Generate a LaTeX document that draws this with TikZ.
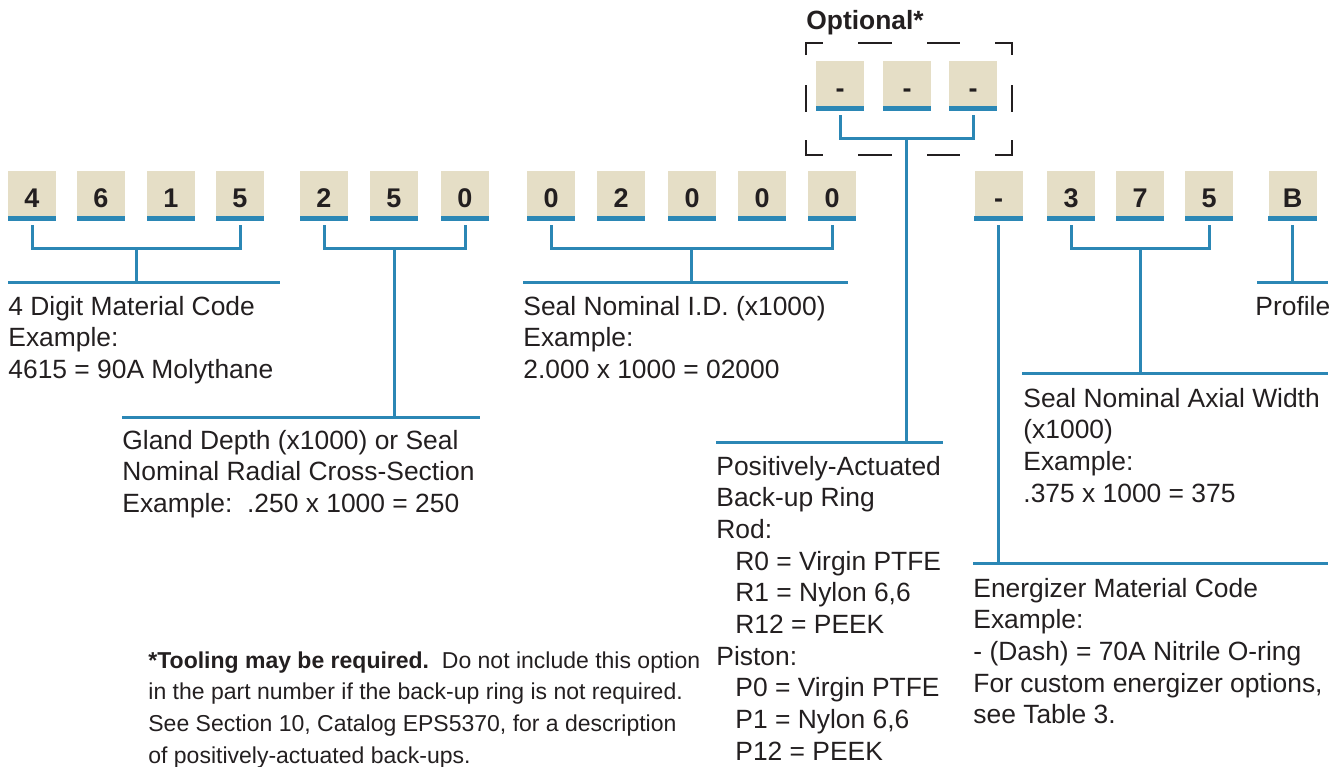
\documentclass[tikz,border=0pt]{standalone}
\usepackage{fontspec}
\setmainfont{Liberation Sans}
\usetikzlibrary{calc}
\definecolor{beige}{HTML}{E5DEC6}
\definecolor{pblue}{HTML}{2B87B5}
\definecolor{ink}{HTML}{231F20}
\newcommand\txtfont{\fontsize{13.2}{15.85}\selectfont}
\newcommand\fnfont{\fontsize{11.5}{15.85}\selectfont}
\newcommand\lns[1]{\begin{tabular}[t]{@{}l@{}}#1\end{tabular}}
\newcommand\ind{\hspace*{9.5pt}}
\begin{document}
\begin{tikzpicture}[x=0.5pt,y=-0.5pt,
  digitbox/.style={fill=beige, minimum width=24pt, minimum height=22.5pt, inner sep=0pt,
    font=\fontsize{13.5}{14}\selectfont\bfseries, text=ink, text height=14pt, text depth=0pt},
  conn/.style={draw=pblue, line width=1.5pt},
  lbl/.style={anchor=base west, inner sep=0pt, font=\txtfont, text=ink},
  dashbox/.style={draw=ink, line width=1.4pt}]
\useasboundingbox (0,0) rectangle (1342,766);

\newcommand\pbox[4]{\node[digitbox] (#1) at (#2,#3) {#4};
  \fill[pblue] (#1.south west) rectangle ($(#1.south east)+(0,5)$);}

% row 1
\pbox{a1}{32}{193.5}{4}
\pbox{a2}{101}{193.5}{6}
\pbox{a3}{171}{193.5}{1}
\pbox{a4}{240}{193.5}{5}
\pbox{b1}{324}{193.5}{2}
\pbox{b2}{394}{193.5}{5}
\pbox{b3}{465}{193.5}{0}
\pbox{c1}{551}{193.5}{0}
\pbox{c2}{621}{193.5}{2}
\pbox{c3}{692}{193.5}{0}
\pbox{c4}{762}{193.5}{0}
\pbox{c5}{832}{193.5}{0}
\pbox{d1}{998.5}{193.5}{-}
\pbox{e1}{1071}{193.5}{3}
\pbox{e2}{1140}{193.5}{7}
\pbox{e3}{1209}{193.5}{5}
\pbox{f1}{1292.5}{193.5}{B}
% optional row
\pbox{o1}{840}{83.5}{-}
\pbox{o2}{907}{83.5}{-}
\pbox{o3}{973}{83.5}{-}

% optional dashed frame
\node[lbl, font=\txtfont\bfseries] (opt) at (806,29) {Optional*};
\draw[dashbox] (806,55) -- (806,43) -- (823,43);
\draw[dashbox] (858,43) -- (892,43);
\draw[dashbox] (927,43) -- (960,43);
\draw[dashbox] (995,43) -- (1012,43) -- (1012,55);
\draw[dashbox] (806,85) -- (806,112);
\draw[dashbox] (1012,85) -- (1012,112);
\draw[dashbox] (806,140) -- (806,155) -- (823,155);
\draw[dashbox] (858,155) -- (892,155);
\draw[dashbox] (927,155) -- (960,155);
\draw[dashbox] (995,155) -- (1012,155) -- (1012,140);

% label lines
\coordinate (L1a) at (8,282);    \coordinate (L1b) at (280,282);
\coordinate (L2a) at (122,417);  \coordinate (L2b) at (480,417);
\coordinate (L3a) at (523,282);  \coordinate (L3b) at (848,282);
\coordinate (L4a) at (716,442);  \coordinate (L4b) at (943,442);
\coordinate (L5a) at (973,563);  \coordinate (L5b) at (1328,563);
\coordinate (L6a) at (1022,373); \coordinate (L6b) at (1328,373);
\coordinate (L7a) at (1257,282); \coordinate (L7b) at (1328,282);
\foreach \i in {1,...,7} {\draw[conn] (L\i a) -- (L\i b);}

% brackets
\draw[conn] ($(a1.south)+(0,9)$) |- ($(a4.south)+(0,32)$) -- ($(a4.south)+(0,9)$);
\coordinate (am) at ($(a1.south)!0.5!(a4.south)+(0,32)$);
\draw[conn] (am) -- (am |- L1a);

\draw[conn] ($(b1.south)+(0,9)$) |- ($(b3.south)+(0,32)$) -- ($(b3.south)+(0,9)$);
\coordinate (bm) at ($(b1.south)!0.5!(b3.south)+(0,32)$);
\draw[conn] (bm) -- (bm |- L2a);

\draw[conn] ($(c1.south)+(0,9)$) |- ($(c5.south)+(0,32)$) -- ($(c5.south)+(0,9)$);
\coordinate (cm) at ($(c1.south)!0.5!(c5.south)+(0,32)$);
\draw[conn] (cm) -- (cm |- L3a);

\draw[conn] ($(o1.south)+(0,9)$) |- ($(o3.south)+(0,32)$) -- ($(o3.south)+(0,9)$);
\coordinate (om) at ($(o1.south)!0.5!(o3.south)+(0,32)$);
\draw[conn] (om) -- (om |- L4a);

\draw[conn] ($(d1.south)+(0,9)$) -- (d1 |- L5a);

\draw[conn] ($(e1.south)+(0,9)$) |- ($(e3.south)+(0,32)$) -- ($(e3.south)+(0,9)$);
\coordinate (em) at ($(e1.south)!0.5!(e3.south)+(0,32)$);
\draw[conn] (em) -- (em |- L6a);

\draw[conn] ($(f1.south)+(0,9)$) -- (f1 |- L7a);

% texts
\node[lbl] (t1) at (8,315) {\lns{4 Digit Material Code\\ Example:\\ 4615 = 90A Molythane}};
\node[lbl] (t2) at (122,449) {\lns{Gland Depth (x1000) or Seal\\ Nominal Radial Cross-Section\\ Example:\ \ .250 x 1000 = 250}};
\node[lbl] (t3) at (523,315) {\lns{Seal Nominal I.D. (x1000)\\ Example:\\ 2.000 x 1000 = 02000}};
\node[lbl] (t4) at (716,475) {\lns{Positively-Actuated\\ Back-up Ring\\ Rod:\\ \ind R0 = Virgin PTFE\\ \ind R1 = Nylon 6,6\\ \ind R12 = PEEK\\ Piston:\\ \ind P0 = Virgin PTFE\\ \ind P1 = Nylon 6,6\\ \ind P12 = PEEK}};
\node[lbl] (t5) at (973,597) {\lns{Energizer Material Code\\ Example:\\ - (Dash) = 70A Nitrile O-ring\\ For custom energizer options,\\ see Table 3.}};
\node[lbl] (t6) at (1023,407) {\lns{Seal Nominal Axial Width\\ (x1000)\\ Example:\\ .375 x 1000 = 375}};
\node[lbl] (t7) at (1255,315) {Profile};
\node[lbl, font=\fnfont] (fn) at (148,668) {\lns{\textbf{*Tooling may be required.}\ \ Do not include this option\\ in the part number if the back-up ring is not required.\\ See Section 10, Catalog EPS5370, for a description\\ of positively-actuated back-ups.}};
\end{tikzpicture}
\end{document}
